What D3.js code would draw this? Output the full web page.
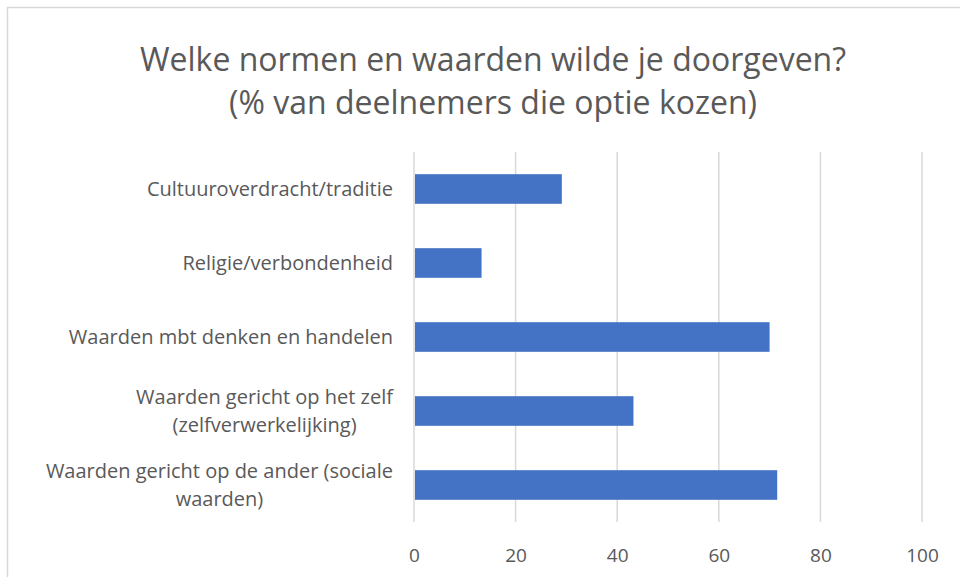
<!DOCTYPE html>
<html>
<head>
<meta charset="utf-8">
<script src="https://cdn.jsdelivr.net/npm/d3@7"></script>
<style>
  body { margin: 0; background: #fff; }
  svg { display: block; font-family: "Open Sans", Lato, sans-serif; }
</style>
</head>
<body>
<svg id="chart" width="960" height="577"></svg>
<script>
// chart data
const titleLines = ["Welke normen en waarden wilde je doorgeven?", "(% van deelnemers die optie kozen)"];
const categories = [
  "Cultuuroverdracht/traditie",
  "Religie/verbondenheid",
  "Waarden mbt denken en handelen",
  "Waarden gericht op het zelf\n(zelfverwerkelijking)",
  "Waarden gericht op de ander (sociale\nwaarden)"
];
const values = [29.1, 13.3, 70.0, 43.2, 71.5];
const tickValues = [0, 20, 40, 60, 80, 100];

const svg = d3.select("#chart");
const textColor = "#595959";

// outer frame
svg.append("rect")
  .attr("x", 7.5).attr("y", 7.5)
  .attr("width", 960).attr("height", 620)
  .attr("fill", "none")
  .attr("stroke", "#d9d9d9")
  .attr("stroke-width", 1.5);

// title
svg.append("g").selectAll("text")
  .data(titleLines)
  .join("text")
  .attr("x", 493)
  .attr("y", (d, i) => 71 + i * 43)
  .attr("text-anchor", "middle")
  .attr("fill", textColor)
  .attr("font-size", 32)
  .text(d => d);

const x = d3.scaleLinear().domain([0, 100]).range([414, 922]);
const y = d3.scaleBand().domain(categories).range([152, 522])
  .paddingInner(0.6).paddingOuter(0.3);

// gridlines
svg.append("g").selectAll("line")
  .data(tickValues)
  .join("line")
  .attr("x1", d => x(d)).attr("x2", d => x(d))
  .attr("y1", 152).attr("y2", 522)
  .attr("stroke", "#d9d9d9")
  .attr("stroke-width", 1.5);

// bars
svg.append("g").selectAll("rect")
  .data(values)
  .join("rect")
  .attr("x", x(0) + 1)
  .attr("y", (d, i) => y(categories[i]))
  .attr("width", d => x(d) - x(0) - 1)
  .attr("height", y.bandwidth())
  .attr("fill", "#4472c4");

// x axis labels
const xAxis = d3.axisBottom(x).tickValues(tickValues).tickSize(0).tickPadding(0);
const gx = svg.append("g").attr("transform", "translate(0,548)").call(xAxis);
gx.select(".domain").remove();
gx.selectAll("text")
  .attr("fill", textColor)
  .attr("font-size", 19)
  .attr("font-family", "'Open Sans', Lato, sans-serif");

// category labels: one text per category, wrapped lines as tspans,
// centered within a right-aligned block
const labelRight = 393;
const lineH = 27.5;
const labels = svg.append("g")
  .attr("fill", textColor)
  .attr("font-size", 20);

categories.forEach(c => {
  const lines = c.split("\n");
  const cy = y(c) + y.bandwidth() / 2;
  const t = labels.append("text").attr("text-anchor", "middle");
  const spans = t.selectAll("tspan")
    .data(lines)
    .join("tspan")
    .attr("y", (d, i) => cy + 7 + (i - (lines.length - 1) / 2) * lineH)
    .text(d => d);
  let maxW = 0;
  spans.each(function () { maxW = Math.max(maxW, this.getComputedTextLength()); });
  spans.attr("x", labelRight - maxW / 2);
});
</script>
</body>
</html>
